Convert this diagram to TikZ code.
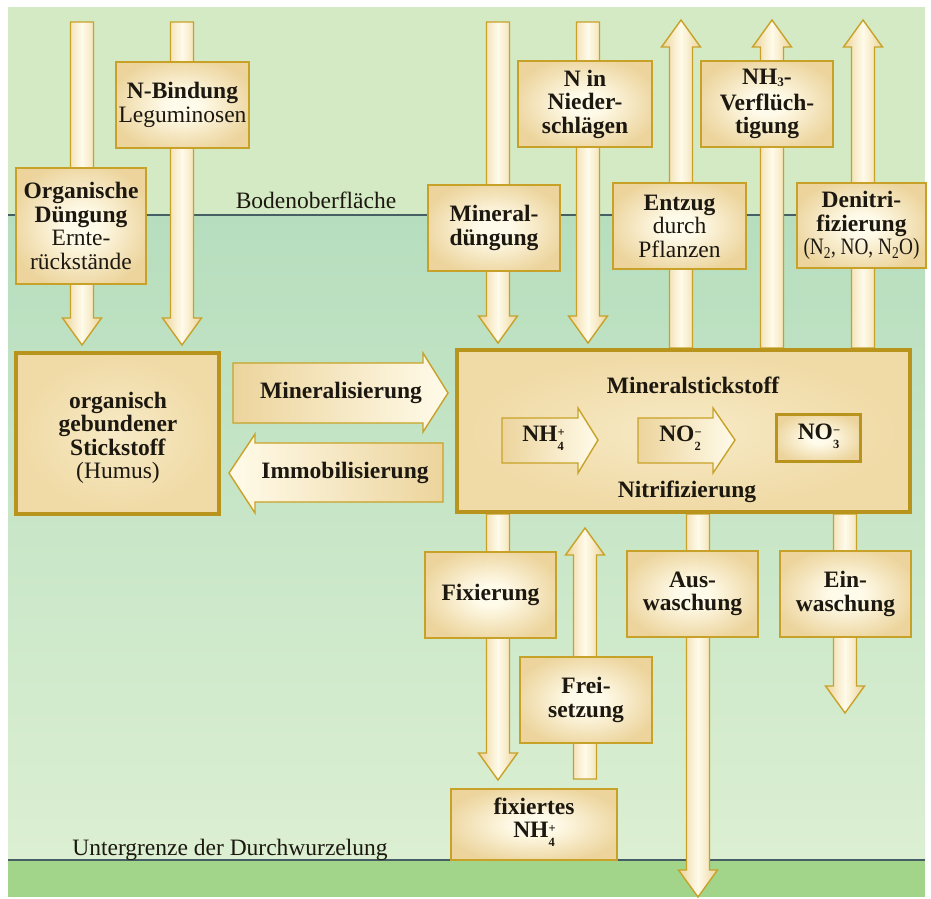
\documentclass[tikz,border=0pt]{standalone}
\usepackage{fontspec}
\setmainfont{Liberation Serif}
\usepackage{graphicx}
\usepackage{tikz}
\definecolor{topbg}{RGB}{212,234,196}
\definecolor{midtop}{RGB}{182,222,190}
\definecolor{midbot}{RGB}{220,239,210}
\definecolor{botbg}{RGB}{162,212,138}
\definecolor{linecol}{RGB}{70,95,100}
\definecolor{gold}{RGB}{200,162,40}
\definecolor{golddark}{RGB}{185,148,28}
\definecolor{boxlight}{RGB}{255,251,234}
\definecolor{boxtan}{RGB}{236,212,156}
\definecolor{maintan}{RGB}{240,218,165}
\definecolor{mainlight}{RGB}{247,234,198}
\definecolor{txt}{RGB}{28,24,16}
\pgfdeclareradialshading{boxsh}{\pgfpoint{0bp}{0bp}}{color(0bp)=(boxlight); color(6bp)=(boxlight); color(28bp)=(boxtan); color(50bp)=(boxtan)}
\pgfdeclareradialshading{mainsh}{\pgfpoint{0bp}{0bp}}{color(0bp)=(mainlight); color(25bp)=(maintan); color(50bp)=(maintan)}
\newcommand{\subsup}[2]{\rlap{\raisebox{4.8pt}{\fontsize{12.5}{12.5}\selectfont #2}}\raisebox{-8.6pt}{\fontsize{12.5}{12.5}\selectfont #1}}
\newcommand{\lowsub}[1]{\raisebox{-2pt}{\fontsize{13}{13}\selectfont #1}}
\newcommand{\mns}{\char"2212}
\tikzset{
  lbl/.style={font=\fontsize{23.5}{23.5}\selectfont, text=txt, align=center, inner sep=0pt},
  blbl/.style={lbl, font=\fontsize{23.5}{23.5}\selectfont\bfseries},
  box/.style={lbl, rectangle, draw=gold, line width=1.6pt, shade, shading=boxsh},
  mainbox/.style={lbl, rectangle, draw=golddark, line width=4pt, shade, shading=mainsh},
  varrow/.style={draw=gold, line width=1.4pt, left color=boxtan, right color=boxtan, middle color=boxlight},
  harrowR/.style={draw=gold, line width=1.4pt, left color=boxtan, right color=boxlight},
  harrowL/.style={draw=gold, line width=1.4pt, left color=boxlight, right color=boxtan},
  divline/.style={draw=linecol, line width=1.2pt},
}
\newcommand{\varr}[4]{%
  \pgfmathsetmacro{\hb}{#4>#3 ? #4-27 : #4+27}%
  \path[varrow] (#2-11.5,#3) -- (#2+11.5,#3) -- (#2+11.5,\hb) -- (#2+19.5,\hb)
    -- (#2,#4) coordinate (#1) -- (#2-19.5,\hb) -- (#2-11.5,\hb) -- cycle;}
\begin{document}
\begin{tikzpicture}[x=1pt,y=-1pt]
\useasboundingbox (0,0) rectangle (931,898);
% background
\fill[white] (0,0) rectangle (931,898);
\fill[topbg] (8,7) rectangle (925,215);
\shade[top color=midtop, bottom color=midbot] (8,215) rectangle (925,860);
\fill[botbg] (8,860) rectangle (925,897);
\coordinate (sl) at (8,215); \coordinate (sr) at (925,215);
\coordinate (ul) at (8,860); \coordinate (ur) at (925,860);
\draw[divline] (sl) -- (sr);
\draw[divline] (ul) -- (ur);
\node[lbl, anchor=base] (boden) at (316,208) {Bodenoberfläche};
\node[lbl, anchor=base] (unter) at (230,855) {Untergrenze der Durchwurzelung};

% vertical arrows
\varr{a1}{82}{22}{345}
\varr{a2}{182}{22}{345}
\varr{a3}{498}{22}{343}
\varr{a4}{588}{22}{343}
\varr{a5}{681}{348}{20}
\varr{a6}{772}{348}{20}
\varr{a7}{863}{348}{20}
\varr{a8}{498}{514}{780}
\varr{a9}{585}{779}{528}
\varr{a10}{698}{514}{897}
\varr{a11}{845}{514}{713}

% horizontal arrows
\path[harrowR] (233,363) -- (423,363) -- (423,353) -- (448,393) coordinate (minTip) -- (423,432) -- (423,423) -- (233,423) -- cycle;
\path[harrowL] (443,443) -- (255,443) -- (255,434) -- (229,473) coordinate (immTip) -- (255,513) -- (255,502) -- (443,502) -- cycle;
\node[blbl] (minlab) at (341,393) {Mineralisierung};
\node[blbl] (immlab) at (345,473) {Immobilisierung};

% boxes
\node[box, minimum width=130pt, minimum height=116pt] (org) at (81,226)
  {\textbf{Organische}\\\textbf{Düngung}\\Ernte-\\rückstände};
\node[box, minimum width=133pt, minimum height=86pt] (nbind) at (182.5,105)
  {\textbf{N-Bindung}\\Leguminosen};
\node[box, minimum width=132pt, minimum height=86pt] (mindg) at (494,228)
  {\textbf{Mineral-}\\\textbf{düngung}};
\node[box, minimum width=134pt, minimum height=86pt] (nied) at (585,104)
  {\textbf{N in}\\\textbf{Nieder-}\\\textbf{schlägen}};
\node[box, minimum width=133pt, minimum height=86pt] (entz) at (679.5,226)
  {\textbf{Entzug}\\durch\\Pflanzen};
\node[box, minimum width=132pt, minimum height=86pt] (nh3) at (767,104)
  {\textbf{NH\lowsub{3}-}\\[2.5pt]\textbf{Verflüch-}\\\textbf{tigung}};
\node[box, minimum width=129pt, minimum height=85pt] (deni) at (861.5,225.5)
  {\textbf{Denitri-}\\\textbf{fizierung}\\\scalebox{0.82}[1]{(N\textsubscript{2}, NO, N\textsubscript{2}O)}};
\node[mainbox, minimum width=203pt, minimum height=161pt] (humus) at (117.5,433.5) {};
\node[lbl] (humuslab) at (118,438)
  {\textbf{organisch}\\\textbf{gebundener}\\\textbf{Stickstoff}\\(Humus)};
\node[mainbox, minimum width=453pt, minimum height=162pt] (minst) at (683.5,431) {};
\node[blbl] (minstlab) at (693,385) {Mineralstickstoff};
\node[blbl] (nitri) at (687,492) {Nitrifizierung};
\path[harrowR] (502,418) -- (578,418) -- (578,408) -- (598,440) coordinate (nh4tip) -- (578,473) -- (578,463) -- (502,463) -- cycle;
\path[harrowR] (638,418) -- (713,418) -- (713,408) -- (735,440) coordinate (no2tip) -- (713,473) -- (713,463) -- (638,463) -- cycle;
\node[blbl] (nh4) at (543,438) {NH\subsup{4}{+}};
\node[blbl] (no2) at (680,438) {NO\subsup{2}{\mns}};
\node[box, draw=golddark, line width=3pt, minimum width=84pt, minimum height=47pt] (no3) at (818.5,438) {};
\node[blbl] (no3lab) at (818.5,436) {NO\subsup{3}{\mns}};
\node[box, minimum width=131pt, minimum height=86pt] (fix) at (490.5,595) {\textbf{Fixierung}};
\node[box, minimum width=132pt, minimum height=86pt] (frei) at (586,700) {\textbf{Frei-}\\\textbf{setzung}};
\node[box, minimum width=131pt, minimum height=86pt] (aus) at (692.5,594) {\textbf{Aus-}\\\textbf{waschung}};
\node[box, minimum width=131pt, minimum height=86pt] (ein) at (845.5,594) {\textbf{Ein-}\\\textbf{waschung}};
\node[box, minimum width=166pt, minimum height=71pt] (fixnh4) at (534,824.5) {};
\node[blbl] (fixnh4lab) at (534,822)
  {fixiertes\\NH\subsup{4}{+}};
\end{tikzpicture}
\end{document}
